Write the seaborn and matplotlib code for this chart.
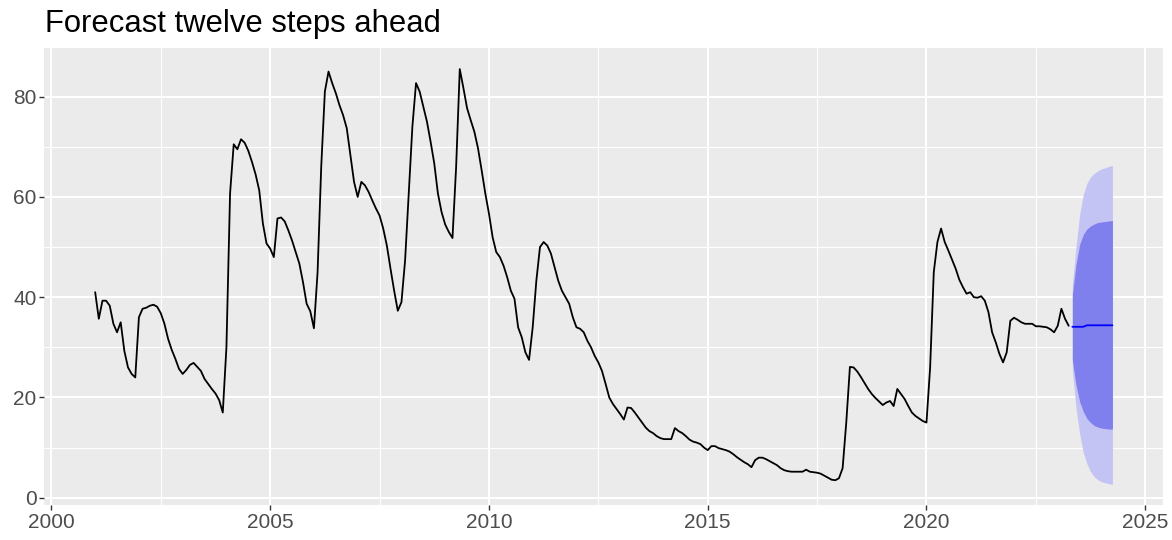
import numpy as np
import pandas as pd
import matplotlib
matplotlib.use("Agg")
import matplotlib.pyplot as plt
from matplotlib.ticker import MultipleLocator
import seaborn as sns

# ---- data (monthly, starting Jan 2001) ----
start_year = 2001
values = [
    41.0, 35.7, 39.3, 39.3, 38.3, 34.7, 33.0, 35.0, 29.3, 26.0, 24.7, 24.0,   # 2001
    36.0, 37.7, 37.9, 38.3, 38.5, 38.1, 36.8, 34.7, 31.7, 29.5, 27.7, 25.7,   # 2002
    24.7, 25.5, 26.5, 26.9, 26.1, 25.3, 23.7, 22.7, 21.7, 20.8, 19.5, 17.0,   # 2003
    30.0, 60.7, 70.5, 69.5, 71.5, 70.8, 69.2, 67.0, 64.5, 61.3, 54.7, 50.7,   # 2004
    49.7, 48.0, 55.7, 55.9, 55.1, 53.3, 51.3, 49.0, 46.7, 43.0, 38.7, 37.2,   # 2005
    33.8, 45.0, 66.0, 81.0, 85.0, 82.7, 80.7, 78.3, 76.3, 73.7, 68.3, 63.0,   # 2006
    60.0, 63.0, 62.3, 61.0, 59.3, 57.7, 56.3, 53.7, 50.3, 45.7, 41.3, 37.3,   # 2007
    39.0, 47.3, 60.7, 74.0, 82.7, 81.0, 78.0, 75.0, 71.0, 66.7, 60.7, 57.0,   # 2008
    54.5, 53.0, 51.8, 66.0, 85.5, 81.7, 77.7, 75.3, 73.0, 69.7, 65.3, 60.7,   # 2009
    56.7, 52.0, 49.0, 48.0, 46.3, 44.0, 41.3, 39.7, 34.0, 32.0, 29.0, 27.5,   # 2010
    34.0, 43.3, 50.0, 51.0, 50.3, 48.7, 46.0, 43.3, 41.3, 40.0, 38.7, 36.0,   # 2011
    34.0, 33.7, 33.0, 31.3, 30.0, 28.3, 27.0, 25.3, 22.7, 20.0, 18.7, 17.7,   # 2012
    16.7, 15.6, 18.0, 17.9, 17.0, 16.0, 15.0, 14.0, 13.3, 12.9, 12.3, 11.9,   # 2013
    11.7, 11.7, 11.7, 13.9, 13.3, 12.9, 12.3, 11.6, 11.2, 11.0, 10.7, 10.0,   # 2014
    9.5, 10.3, 10.3, 9.9, 9.7, 9.5, 9.2, 8.7, 8.1, 7.6, 7.1, 6.7,            # 2015
    6.1, 7.5, 8.0, 8.0, 7.7, 7.3, 6.9, 6.5, 5.9, 5.5, 5.3, 5.2,              # 2016
    5.2, 5.2, 5.2, 5.6, 5.2, 5.1, 5.0, 4.8, 4.4, 4.0, 3.6, 3.5,              # 2017
    3.9, 5.9, 15.0, 26.1, 26.0, 25.2, 24.1, 22.9, 21.7, 20.7, 19.9, 19.2,    # 2018
    18.5, 19.0, 19.3, 18.3, 21.7, 20.7, 19.7, 18.3, 17.0, 16.3, 15.8, 15.3,  # 2019
    15.0, 26.0, 45.0, 51.0, 53.7, 51.0, 49.3, 47.5, 45.7, 43.5, 42.0, 40.7,  # 2020
    41.0, 40.0, 39.9, 40.2, 39.3, 37.0, 33.0, 31.0, 28.7, 27.0, 29.0, 35.3,  # 2021
    35.9, 35.5, 35.0, 34.7, 34.7, 34.7, 34.2, 34.2, 34.1, 34.0, 33.6, 33.0,  # 2022
    34.3, 37.7, 35.7, 34.3,                                                  # 2023
]

# twelve-step forecast (mean and prediction intervals)
fc_mean = [34.1, 34.1, 34.1, 34.1, 34.4, 34.4, 34.4, 34.4, 34.4, 34.4, 34.4, 34.4]
fc_hi80 = [40.5, 46.5, 50.5, 52.5, 53.6, 54.2, 54.6, 54.9, 55.0, 55.1, 55.2, 55.3]
fc_lo80 = [27.5, 22.5, 19.2, 17.2, 15.8, 15.0, 14.4, 14.1, 13.9, 13.8, 13.7, 13.7]
fc_hi95 = [42.5, 50.0, 56.5, 60.5, 62.7, 64.0, 64.7, 65.2, 65.6, 65.8, 66.1, 66.3]
fc_lo95 = [25.5, 18.0, 12.8, 9.0, 6.8, 5.2, 4.2, 3.6, 3.2, 3.0, 2.8, 2.7]

title = "Forecast twelve steps ahead"
x_ticks = [2000, 2005, 2010, 2015, 2020, 2025]
y_ticks = [0, 20, 40, 60, 80]

# ---- build frames ----
n = len(values)
hist = pd.DataFrame({"time": start_year + np.arange(n) / 12.0, "value": values})
fc = pd.DataFrame({
    "time": start_year + (n + np.arange(len(fc_mean))) / 12.0,
    "mean": fc_mean, "hi80": fc_hi80, "lo80": fc_lo80,
    "hi95": fc_hi95, "lo95": fc_lo95,
})

# ---- style ----
sns.set_theme(style="darkgrid", rc={
    "axes.facecolor": "#EBEBEB",
    "grid.color": "white",
    "figure.facecolor": "white",
})
plt.rcParams["font.family"] = ["Liberation Sans", "DejaVu Sans"]

fig = plt.figure(figsize=(11.72, 5.40), dpi=100)
ax = fig.add_axes([44.3 / 1172, 35 / 540, (1163.3 - 44.3) / 1172, (505 - 48.3) / 540])

ax.fill_between(fc["time"], fc["lo95"], fc["hi95"], color="#C4C4F4", lw=0, zorder=2)
ax.fill_between(fc["time"], fc["lo80"], fc["hi80"], color="#7F7FEE", lw=0, zorder=3)
sns.lineplot(data=hist, x="time", y="value", ax=ax, color="black", lw=1.3, zorder=4)
sns.lineplot(data=fc, x="time", y="mean", ax=ax, color="#0000FF", lw=1.3, zorder=5)

# ggplot-like 5% expansion
xmin, xmax = hist["time"].min(), fc["time"].max()
ymin = min(min(values), min(fc_lo95))
ymax = max(max(values), max(fc_hi95))
dx, dy = (xmax - xmin) * 0.05, (ymax - ymin) * 0.05
ax.set_xlim(xmin - dx, xmax + dx)
ax.set_ylim(ymin - dy, ymax + dy)

ax.set_xticks(x_ticks)
ax.set_xticklabels([str(t) for t in x_ticks])
ax.set_yticks(y_ticks)
ax.set_yticklabels([str(t) for t in y_ticks])
ax.xaxis.set_minor_locator(MultipleLocator(2.5))
ax.yaxis.set_minor_locator(MultipleLocator(10))
ax.grid(which="major", color="white", lw=1.5)
ax.grid(which="minor", color="white", lw=0.8)
ax.set_axisbelow(True)
for s in ax.spines.values():
    s.set_visible(False)
ax.tick_params(axis="both", which="major", length=3.5, width=1.0, color="#333333",
               labelsize=15, labelcolor="#4D4D4D", pad=2, bottom=True, left=True)
ax.tick_params(axis="both", which="minor", length=0)
ax.set_xlabel("")
ax.set_ylabel("")

fig.text(45 / 1172, 1 - 31.7 / 540, title, fontsize=22.3, color="black",
         ha="left", va="baseline")

fig.savefig("out.png", dpi=100)
